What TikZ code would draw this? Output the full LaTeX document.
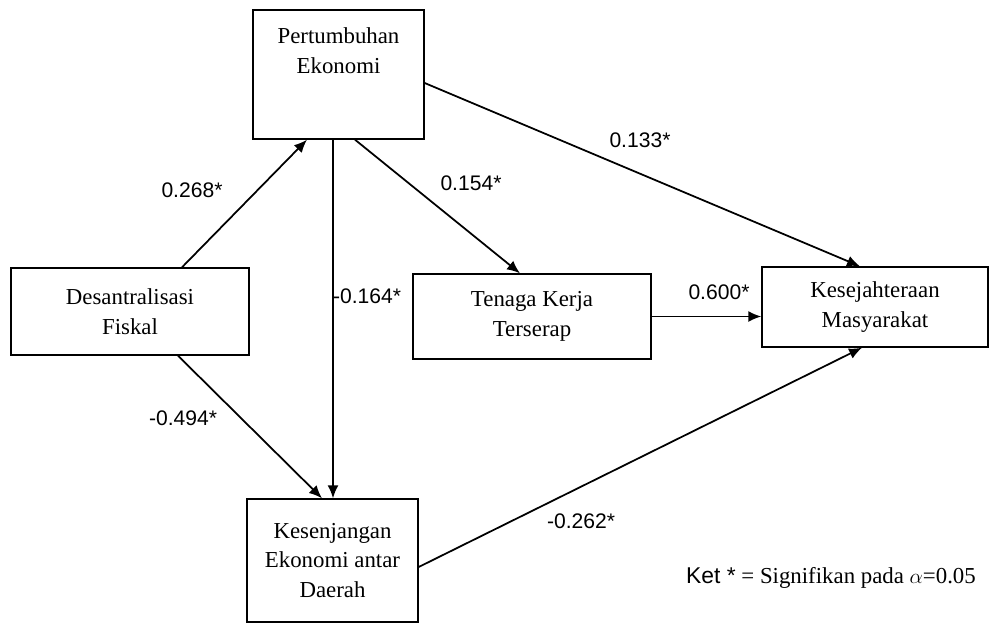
\documentclass[tikz,border=0pt]{standalone}
\usepackage{fontspec}
\setmainfont{Liberation Serif}
\newfontfamily\numfont{Liberation Sans}
\usetikzlibrary{arrows.meta,positioning}

\begin{document}
\begin{tikzpicture}[
  x=0.02cm, y=-0.02cm,
  box/.style={draw=black, line width=0.8pt, fill=white, align=center, font=\fontsize{13}{17}\selectfont},
  boxtxt/.style={align=center, font=\fontsize{13}{17}\selectfont},
  coef/.style={font=\numfont\fontsize{12}{14}\selectfont},
  path/.style={draw=black, line width=1pt, -{Latex[length=2.6mm,width=2.2mm]}}
]
  \useasboundingbox (0,0) rectangle (992,626);

  % boxes
  \node[box, minimum width=4.76cm, minimum height=1.74cm] (df) at (130,311.5) {Desantralisasi\\Fiskal};
  \node[box, minimum width=3.42cm, minimum height=2.58cm] (pe) at (338.5,74.5) {};
  \node[boxtxt] (pe-txt) at (338.5,51) {Pertumbuhan\\Ekonomi};
  \node[box, minimum width=4.76cm, minimum height=1.70cm] (tk) at (532,316.5) {Tenaga Kerja\\Terserap};
  \node[box, minimum width=4.52cm, minimum height=1.60cm] (km) at (875,307) {Kesejahteraan\\Masyarakat};
  \node[box, minimum width=3.42cm, minimum height=2.46cm] (kd) at (332.5,560.5) {Kesenjangan\\Ekonomi antar\\Daerah};

  % paths
  \draw[path] ([xshift=1.04cm]df.north) -- ([xshift=-0.63cm]pe.south);
  \draw[path] ([xshift=0.96cm]df.south) -- ([xshift=-0.21cm]kd.north);
  \draw[path] ([xshift=-0.11cm]pe.south) -- ([xshift=-0.11cm]pe.south |- kd.north);
  \draw[path] ([xshift=0.33cm]pe.south) -- ([xshift=-0.24cm]tk.north);
  \draw[path] ([yshift=-0.17cm]pe.east) -- ([xshift=-0.3cm]km.north);
  \draw[path] (tk.east) -- (tk.east -| km.west);
  \draw[path] ([yshift=-0.13cm]kd.east) -- ([xshift=-0.26cm]km.south);

  % coefficients
  \node[coef] (c1) at (192,190) {0.268*};
  \node[coef] (c2) at (183,418) {-0.494*};
  \node[coef] (c3) at (367,296) {-0.164*};
  \node[coef] (c4) at (471,183) {0.154*};
  \node[coef] (c5) at (640,140) {0.133*};
  \node[coef] (c6) at (719,292) {0.600*};
  \node[coef] (c7) at (581,521) {-0.262*};

  \node[boxtxt] (ket) at (831,578) {{\numfont Ket *} = Signifikan pada $\alpha$=0.05};
\end{tikzpicture}
\end{document}
